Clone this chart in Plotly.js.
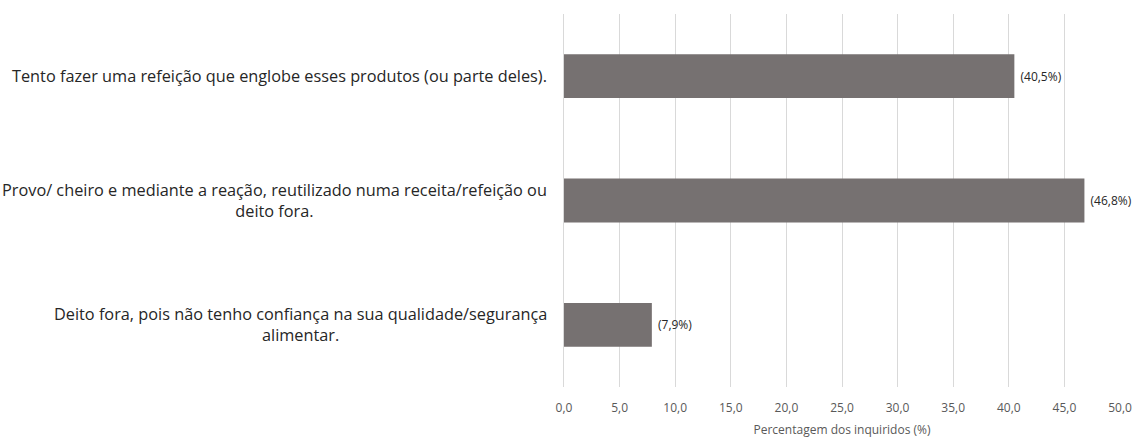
<!DOCTYPE html>
<html><head><meta charset="utf-8">
<script src="https://cdn.plot.ly/plotly-3.0.1.min.js"></script>
<style>html,body{margin:0;padding:0;background:#fff;}#chart{width:1136px;height:438px;}</style>
</head><body><div id="chart"></div>
<script>
const categories = [
  "Deito fora, pois não tenho confiança na sua qualidade/segurança<br>alimentar.",
  "Provo/ cheiro e mediante a reação, reutilizado numa receita/refeição ou<br>deito fora.",
  "Tento fazer uma refeição que englobe esses produtos (ou parte deles)."
];
const values = [7.9, 46.8, 40.5];
const tickVals = [0,5,10,15,20,25,30,35,40,45,50];
const xTitle = "Percentagem dos inquiridos (%)";

const FONT = "'Open Sans', sans-serif";
const trace = {
  type: 'bar', orientation: 'h',
  x: values, y: categories.map((c,i)=>i),
  marker: {color: '#767171'},
  texttemplate: ' (%{x:.1f}%)', textposition: 'outside', cliponaxis: false,
  textfont: {family: FONT, size: 12, color: '#262626'},
  hoverinfo: 'skip'
};
const annotations = categories.map((c,i)=>({
  x: 0, xref: 'paper', xshift: -15, xanchor: 'right', align: 'center',
  y: i, yref: 'y', yanchor: 'middle', showarrow: false, text: c,
  font: {family: FONT, size: 16.3, color: '#262626'}
}));
const layout = {
  width: 1136, height: 438,
  margin: {l: 564, r: 16, t: 14, b: 51},
  paper_bgcolor: '#fff', plot_bgcolor: '#fff',
  separators: ',.',
  showlegend: false,
  bargap: 0.647,
  xaxis: {
    range: [0, 50], tickvals: tickVals, tickformat: '.1f',
    showgrid: true, gridcolor: '#d9d9d9', gridwidth: 1, zeroline: false,
    showline: false, ticks: '', ticklabelstandoff: 12,
    tickfont: {family: FONT, size: 12, color: '#595959'},
    title: {text: xTitle, font: {family: FONT, size: 12, color: '#595959'}, standoff: 13}
  },
  yaxis: {
    range: [-0.5, 2.5], showticklabels: false, showgrid: false, zeroline: false,
    showline: true, linecolor: '#d9d9d9', ticks: ''
  },
  annotations: annotations
};
Plotly.newPlot('chart', [trace], layout, {displayModeBar: false, staticPlot: true});
</script></body></html>
